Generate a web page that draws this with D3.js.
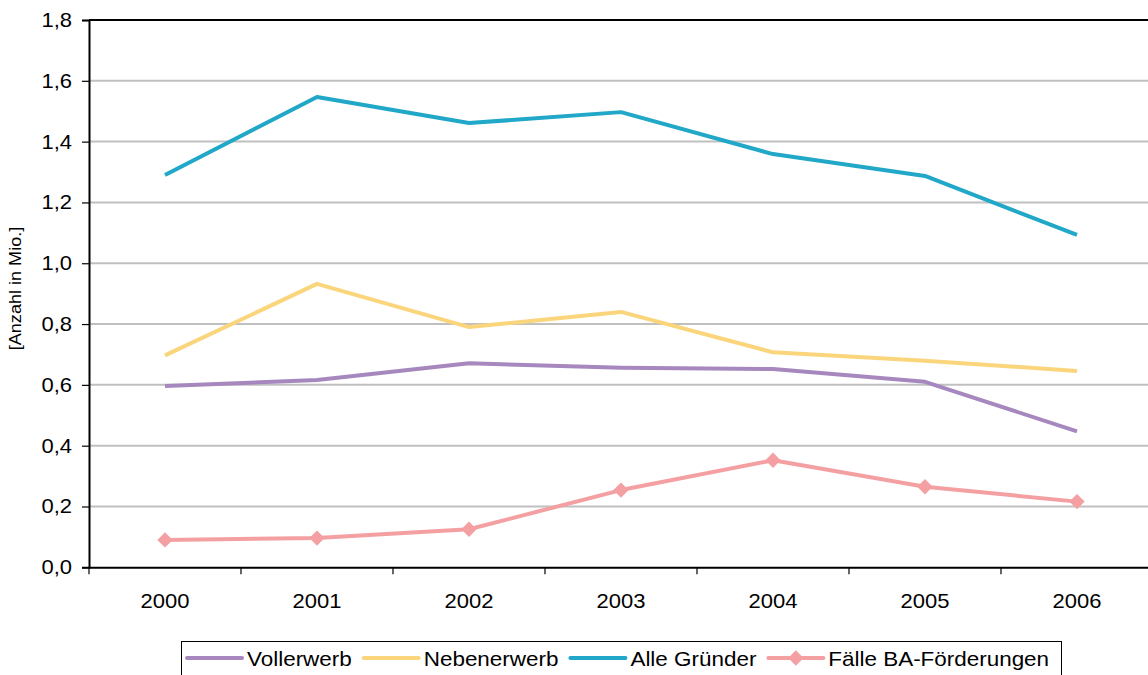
<!DOCTYPE html>
<html>
<head>
<meta charset="utf-8">
<script src="https://cdn.jsdelivr.net/npm/d3@7"></script>
<style>
  body { margin: 0; background: #fff; }
  svg { display: block; font-family: "Liberation Sans", Arial, sans-serif; }
</style>
</head>
<body>
<svg id="chart" width="1148" height="675"></svg>
<script>
// Gründungsgeschehen 2000–2006, Anzahl in Mio.
const years = ["2000", "2001", "2002", "2003", "2004", "2005", "2006"];
const vollerwerb  = [0.596, 0.616, 0.671, 0.656, 0.652, 0.610, 0.447];
const nebenerwerb = [0.697, 0.932, 0.790, 0.840, 0.707, 0.679, 0.646];
const alleGruender = [1.290, 1.547, 1.461, 1.497, 1.359, 1.287, 1.093];
const baFoerderungen = [0.090, 0.096, 0.125, 0.254, 0.352, 0.265, 0.216];
const yTicks = [0, 0.2, 0.4, 0.6, 0.8, 1.0, 1.2, 1.4, 1.6, 1.8];
const seriesNames = ["Vollerwerb", "Nebenerwerb", "Alle Gründer", "Fälle BA-Förderungen"];
const seriesColors = ["#a688be", "#fad57c", "#21a7c7", "#f4a0a2"];
const seriesValues = [vollerwerb, nebenerwerb, alleGruender, baFoerderungen];
const seriesMarkers = [false, false, false, true];

const svg = d3.select("#chart");
const plotLeft = 89, plotRight = 1153, plotTop = 20, plotBottom = 567.3;
const sx = 1.1; // horizontal text stretch

const x = d3.scaleBand().domain(years).range([plotLeft, plotRight]);
const y = d3.scaleLinear().domain([0, 1.8]).range([plotBottom, plotTop]);
const fmt = v => d3.format(".1f")(v).replace(".", ",");

// grid lines
svg.append("g").selectAll("line").data(yTicks.filter(t => t > 0 && t < 1.8)).join("line")
  .attr("x1", plotLeft).attr("x2", plotRight)
  .attr("y1", d => y(d)).attr("y2", d => y(d))
  .attr("stroke", "#c0c0c0").attr("stroke-width", 2);

// top border
svg.append("line").attr("x1", plotLeft).attr("x2", plotRight)
  .attr("y1", y(1.8)).attr("y2", y(1.8))
  .attr("stroke", "#000").attr("stroke-width", 2);

// y axis
const yAxis = svg.append("g").attr("transform", `translate(${plotLeft},0)`)
  .call(d3.axisLeft(y).tickValues(yTicks).tickSize(7).tickPadding(10).tickFormat(fmt));
yAxis.select(".domain").attr("stroke", "#000").attr("stroke-width", 2);
yAxis.selectAll(".tick line").attr("stroke", "#000").attr("stroke-width", 1.2);
yAxis.selectAll(".tick text")
  .attr("font-size", 20).attr("fill", "#000")
  .attr("font-family", "Liberation Sans, Arial, sans-serif")
  .each(function() {
    const t = d3.select(this);
    const xx = +t.attr("x");
    t.attr("x", null).attr("transform", `translate(${xx},0) scale(${sx},1)`);
  });

// x axis
const xAxis = svg.append("g").attr("transform", `translate(0,${plotBottom})`)
  .call(d3.axisBottom(x).tickSize(0).tickPadding(26));
xAxis.select(".domain").attr("stroke", "#000").attr("stroke-width", 2);
xAxis.selectAll(".tick text")
  .attr("font-size", 20).attr("fill", "#000")
  .attr("font-family", "Liberation Sans, Arial, sans-serif")
  .each(function() {
    const t = d3.select(this);
    const yy = +t.attr("y");
    t.attr("y", null).attr("transform", `translate(0,${yy}) scale(${sx},1)`);
  });
// category separators
svg.append("g").selectAll("line").data(years).join("line")
  .attr("x1", d => x(d)).attr("x2", d => x(d))
  .attr("y1", plotBottom).attr("y2", plotBottom + 7)
  .attr("stroke", "#000").attr("stroke-width", 1.2);

// y axis title
svg.append("text")
  .attr("transform", "translate(21,288.5) rotate(-90) scale(1.13,1)")
  .attr("text-anchor", "middle")
  .attr("font-size", 16).attr("fill", "#000")
  .text("[Anzahl in Mio.]");

const diamond = d3.symbol().type(d3.symbolDiamond2).size(150);

// series lines
const line = d3.line().x((d, i) => x(years[i]) + x.bandwidth() / 2).y(d => y(d));
seriesValues.forEach((vals, k) => {
  svg.append("path").datum(vals)
    .attr("d", line).attr("fill", "none")
    .attr("stroke", seriesColors[k]).attr("stroke-width", 4)
    .attr("stroke-linejoin", "round");
  if (seriesMarkers[k]) {
    svg.append("g").selectAll("path").data(vals).join("path")
      .attr("d", diamond)
      .attr("transform", (d, i) => `translate(${x(years[i]) + x.bandwidth() / 2},${y(d)})`)
      .attr("fill", seriesColors[k]);
  }
});

// legend
const lg = svg.append("g");
lg.append("rect").attr("x", 181.5).attr("y", 641.5).attr("width", 880).attr("height", 60)
  .attr("fill", "#fff").attr("stroke", "#000").attr("stroke-width", 1);
let cx = 187;
const ly = 658;
seriesNames.forEach((name, k) => {
  lg.append("line").attr("x1", cx).attr("x2", cx + 55).attr("y1", ly).attr("y2", ly)
    .attr("stroke", seriesColors[k]).attr("stroke-width", 4).attr("stroke-linecap", "round");
  if (seriesMarkers[k]) {
    lg.append("path").attr("d", diamond)
      .attr("transform", `translate(${cx + 27.5},${ly})`)
      .attr("fill", seriesColors[k]);
  }
  const t = lg.append("text")
    .attr("transform", `translate(${cx + 60},${ly + 7.5}) scale(${sx},1)`)
    .attr("font-size", 20.4).attr("fill", "#000").text(name);
  cx += 60 + t.node().getComputedTextLength() * sx + 12;
});
</script>
</body>
</html>
